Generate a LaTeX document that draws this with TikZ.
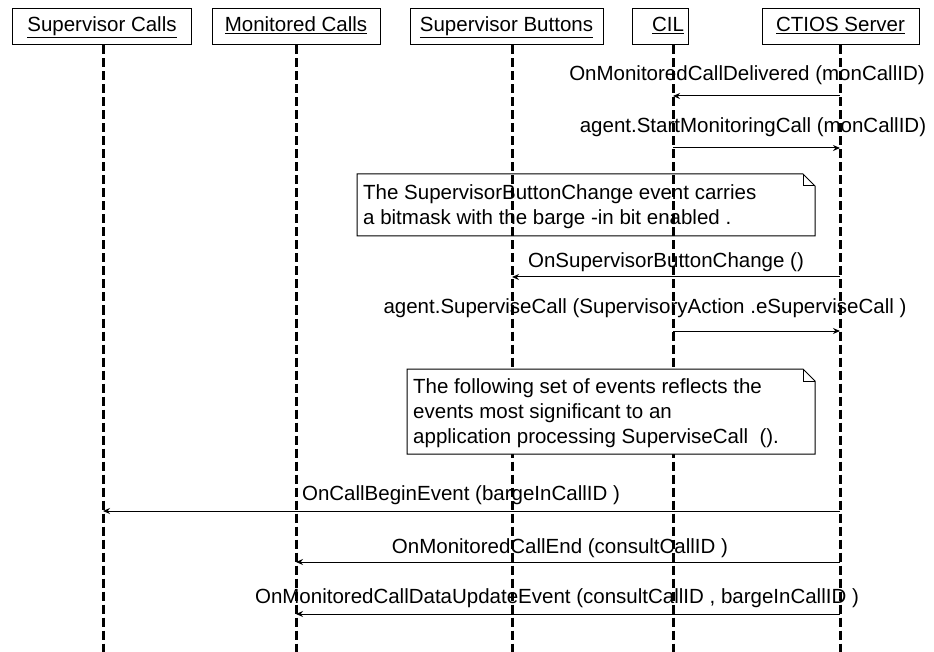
\documentclass[tikz,border=0pt]{standalone}
\usepackage{fontspec}
\setmainfont{Liberation Sans}
\usetikzlibrary{arrows.meta}
\begin{document}
\begin{tikzpicture}[x=1pt,y=-1pt,
  hdr/.style={draw, line width=1pt, minimum height=36pt, inner sep=0pt, text height=15pt, text depth=5pt, font=\fontsize{20.5}{25}\selectfont},
  life/.style={line width=3pt, dash pattern=on 9pt off 4pt},
  msg/.style={line width=1pt, -{Stealth[length=7pt,width=6pt]}},
  lbl/.style={anchor=base, inner sep=0pt, font=\fontsize{20.5}{25}\selectfont},
  notetext/.style={anchor=north west, inner sep=0pt, align=left, font=\fontsize{20.5}{25}\selectfont},
  notebox/.style={line width=1pt}
]
\useasboundingbox (0,0) rectangle (934,652);

% header boxes
\node[hdr, minimum width=179pt] (sc) at (102,27) {\underline{Supervisor Calls}};
\node[hdr, minimum width=168pt] (mc) at (296,27) {\underline{Monitored Calls}};
\node[hdr, minimum width=193pt] (sb) at (506.5,27) {\underline{Supervisor Buttons}};
\node[hdr, minimum width=56pt] (cil) at (660,27) {\hspace*{16pt}\underline{CIL}};
\node[hdr, minimum width=157pt] (ct) at (840.5,27) {\underline{CTIOS Server}};

% lifeline ends
\coordinate (x1) at (103,652);
\coordinate (x2) at (296,652);
\coordinate (x3) at (512,652);
\coordinate (x4) at (673,652);
\coordinate (x5) at (840,652);

\draw[life] (sc.south -| x1) -- (x1);
\draw[life] (mc.south -| x2) -- (x2);
\draw[life] (sb.south -| x3) -- (x3);
\draw[life] (cil.south -| x4) -- (x4);
\draw[life] (ct.south -| x5) -- (x5);

% message levels
\coordinate (m1) at (0,96);
\coordinate (m2) at (0,148);
\coordinate (m4) at (0,277);
\coordinate (m5) at (0,331);
\coordinate (m7) at (0,511);
\coordinate (m8) at (0,562);
\coordinate (m9) at (0,614);

\node[lbl] (t1) at (747,81) {OnMonitoredCallDelivered (monCallID)};
\draw[msg] (x5 |- m1) -- (x4 |- m1);

\node[lbl] (t2) at (753,133) {agent.StartMonitoringCall (monCallID)};
\draw[msg] (x4 |- m2) -- (x5 |- m2);

% note 1
\draw[notebox] (357,174) -- (803,174) -- (815,186) -- (815,236) -- (357,236) -- cycle;
\draw[notebox] (803,174) -- (803,186) -- (815,186);
\node[notetext] (n1) at (363,184) {The SupervisorButtonChange event carries\\a bitmask with the barge -in bit enabled .};

\node[lbl] (t4) at (666,268) {OnSupervisorButtonChange ()};
\draw[msg] (x5 |- m4) -- (x3 |- m4);

\node[lbl] (t5) at (645,313) {agent.SuperviseCall (SupervisoryAction .eSuperviseCall )};
\draw[msg] (x4 |- m5) -- (x5 |- m5);

% note 2
\draw[notebox, fill=white] (407,369) -- (803,369) -- (815,381) -- (815,454) -- (407,454) -- cycle;
\draw[notebox] (803,369) -- (803,381) -- (815,381);
\node[notetext] (n2) at (413,378) {The following set of events reflects the\\events most significant to an\\application processing SuperviseCall\ \ ().};

\node[lbl] (t7) at (461,500) {OnCallBeginEvent (bargeInCallID )};
\draw[msg] (x5 |- m7) -- (x1 |- m7);

\node[lbl] (t8) at (560,553) {OnMonitoredCallEnd (consultCallID )};
\draw[msg] (x5 |- m8) -- (x2 |- m8);

\node[lbl] (t9) at (557,603) {OnMonitoredCallDataUpdateEvent (consultCallID , bargeInCallID )};
\draw[msg] (x5 |- m9) -- (x2 |- m9);
\end{tikzpicture}
\end{document}
